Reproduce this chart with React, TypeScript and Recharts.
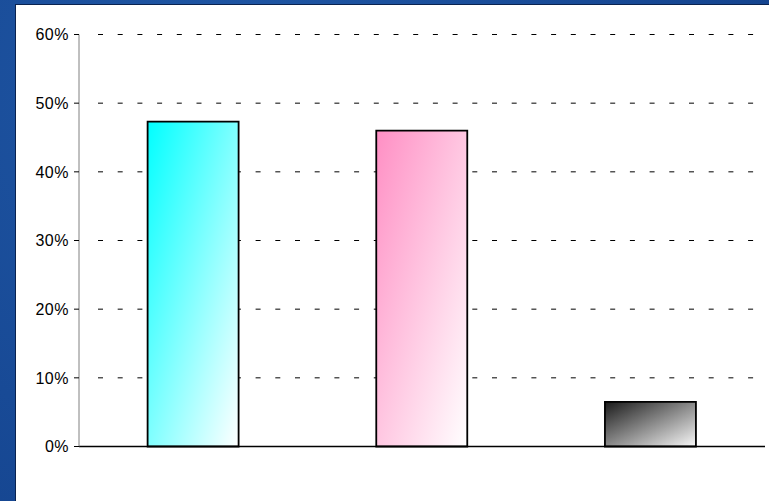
import { Bar, BarChart, CartesianGrid, Cell, XAxis, YAxis } from 'recharts';

const categories = ['A', 'B', 'C'];
const shares = [47.3, 46.0, 6.5];
const yTicks = [0, 10, 20, 30, 40, 50, 60];
const barGradients = [
  { id: 'gCyan', from: '#00ffff', to: '#ffffff' },
  { id: 'gPink', from: '#ff8fc4', to: '#ffffff' },
  { id: 'gGray', from: '#1a1a1a', to: '#f8f8f8' },
];

const data = categories.map((name, i) => ({ name, value: shares[i] }));

export default function App() {
  return (
    <div
      style={{
        position: 'absolute',
        left: 0,
        top: 0,
        width: 769,
        height: 501,
        background: 'radial-gradient(circle at 30% 20%, #2058a6 0%, #184a96 55%, #12408a 100%)',
        overflow: 'hidden',
      }}
    >
      <div
        style={{
          position: 'absolute',
          left: 15,
          top: 4,
          width: 754,
          height: 497,
          background: '#ffffff',
          borderLeft: '1px solid #0a2350',
          borderTop: '1px solid #0a2350',
          boxSizing: 'border-box',
        }}
      >
        <BarChart
          width={753}
          height={496}
          data={data}
          margin={{ top: 29.5, right: 4, bottom: 53.5, left: 3 }}
          barCategoryGap="30%"
        >
          <defs>
            {barGradients.map((g) => (
              <linearGradient key={g.id} id={g.id} x1="0" y1="0" x2="1" y2="1">
                <stop offset="0%" stopColor={g.from} />
                <stop offset="100%" stopColor={g.to} />
              </linearGradient>
            ))}
          </defs>
          <CartesianGrid
            vertical={false}
            stroke="#000"
            strokeDasharray="5 14.7"
            x={82}
            width={656}
          />
          <XAxis
            dataKey="name"
            tick={false}
            tickLine={false}
            height={1}
            axisLine={{ stroke: '#000', strokeWidth: 1.5 }}
          />
          <YAxis
            width={60}
            domain={[0, 60]}
            ticks={yTicks}
            interval={0}
            tickFormatter={(v) => `${v}%`}
            tickSize={5}
            tickMargin={5}
            axisLine={{ stroke: '#808080' }}
            tickLine={{ stroke: '#000' }}
            tick={{ fill: '#000', fontSize: 16, fontFamily: 'Arial, "Liberation Sans", sans-serif', letterSpacing: 0.5 }}
          />
          <Bar dataKey="value" stroke="#000" strokeWidth={1.8} isAnimationActive={false}>
            {data.map((d, i) => (
              <Cell key={d.name} fill={`url(#${barGradients[i].id})`} />
            ))}
          </Bar>
        </BarChart>
      </div>
    </div>
  );
}
